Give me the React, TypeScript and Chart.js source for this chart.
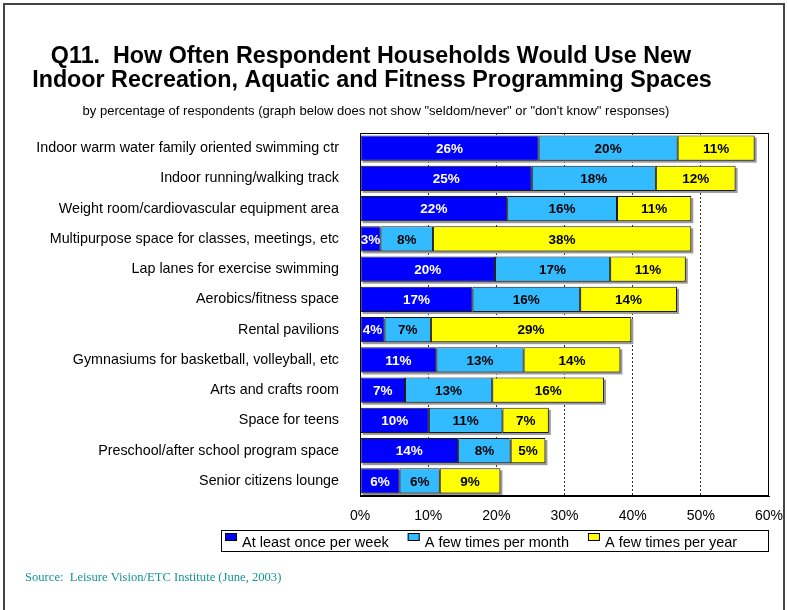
import React, { useEffect, useRef } from "react";
import { Chart, registerables } from "chart.js";

Chart.register(...registerables);

const categories = [
  "Indoor warm water family oriented swimming ctr",
  "Indoor running/walking track",
  "Weight room/cardiovascular equipment area",
  "Multipurpose space for classes, meetings, etc",
  "Lap lanes for exercise swimming",
  "Aerobics/fitness space",
  "Rental pavilions",
  "Gymnasiums for basketball, volleyball, etc",
  "Arts and crafts room",
  "Space for teens",
  "Preschool/after school program space",
  "Senior citizens lounge",
];

const weekly = [26.2, 25.2, 21.6, 3.0, 19.8, 16.5, 3.6, 11.2, 6.6, 10.1, 14.4, 5.8];
const monthly = [20.4, 18.2, 16.1, 7.7, 16.9, 15.8, 6.8, 12.8, 12.8, 10.8, 7.7, 5.9];
const yearly = [11.3, 11.7, 10.9, 37.9, 11.1, 14.2, 29.4, 14.2, 16.4, 6.8, 5.1, 8.9];

const seriesNames = ["At least once per week", "A few times per month", "A few times per year"];
const seriesColors = ["#0000FF", "#33BBFF", "#FFFF00"];
const valueLabelColors = ["#FFFFFF", "#000000", "#000000"];

const xMin = 0;
const xMax = 60;
const xStep = 10;

const titleLines = [
  "Q11.  How Often Respondent Households Would Use New",
  "Indoor Recreation, Aquatic and Fitness Programming Spaces",
];
const subtitleText =
  'by percentage of respondents (graph below does not show "seldom/never" or "don\'t know" responses)';
const sourceText = "Source:  Leisure Vision/ETC Institute (June, 2003)";

const SANS = "'Liberation Sans', Arial, Helvetica, sans-serif";
const SERIF = "'Liberation Serif', 'Times New Roman', serif";

export default function App() {
  const ref = useRef<HTMLCanvasElement | null>(null);

  useEffect(() => {
    const canvas = ref.current;
    if (!canvas) return;

    const decor = {
      id: "decor",
      beforeDraw(chart: any) {
        const ctx = chart.ctx;
        ctx.save();
        ctx.fillStyle = "#FFFFFF";
        ctx.fillRect(0, 0, chart.width, chart.height);
        ctx.restore();
      },
      beforeDatasetsDraw(chart: any) {
        // bar shadows
        const ctx = chart.ctx;
        const n = chart.data.datasets.length;
        const first = chart.getDatasetMeta(0);
        const last = chart.getDatasetMeta(n - 1);
        ctx.save();
        ctx.fillStyle = "#9a9a9a";
        last.data.forEach((el: any, i: number) => {
          const p = el.getProps(["x", "y", "height"], true);
          const b = first.data[i].getProps(["base"], true);
          const top = p.y - p.height / 2;
          ctx.fillRect(b.base + 2, top + 2, p.x - b.base, p.height);
        });
        ctx.restore();
      },
      afterDatasetsDraw(chart: any) {
        const ctx = chart.ctx;
        const area = chart.chartArea;
        // plot frame
        ctx.save();
        ctx.strokeStyle = "#000";
        ctx.lineWidth = 1;
        ctx.strokeRect(
          Math.round(area.left) + 0.5,
          Math.round(area.top) + 0.5,
          Math.round(area.right - area.left) - 1,
          Math.round(area.bottom - area.top) - 1
        );
        // value labels
        ctx.font = `bold 13.5px ${SANS}`;
        ctx.textAlign = "center";
        ctx.textBaseline = "middle";
        chart.data.datasets.forEach((ds: any, d: number) => {
          const meta = chart.getDatasetMeta(d);
          meta.data.forEach((el: any, i: number) => {
            const p = el.getProps(["x", "y", "base"], true);
            ctx.fillStyle = valueLabelColors[d];
            ctx.fillText(Math.round(ds.data[i]) + "%", (p.x + p.base) / 2, p.y + 1);
          });
        });
        ctx.restore();
      },
      afterDraw(chart: any) {
        const ctx = chart.ctx;
        ctx.save();
        // titles
        ctx.fillStyle = "#000";
        ctx.textAlign = "center";
        ctx.textBaseline = "alphabetic";
        ctx.font = `bold 23.3px ${SANS}`;
        ctx.fillText(titleLines[0], 371, 63);
        ctx.fillText(titleLines[1], 372, 87);
        ctx.font = `13px ${SANS}`;
        ctx.textBaseline = "middle";
        ctx.fillText(subtitleText, 376, 111);

        // legend
        const lx0 = 221, lx1 = 769, ly0 = 530, ly1 = 551;
        ctx.strokeStyle = "#000";
        ctx.lineWidth = 1;
        ctx.strokeRect(lx0 + 0.5, ly0 + 0.5, lx1 - lx0 - 1, ly1 - ly0);
        ctx.font = `14.5px ${SANS}`;
        ctx.textAlign = "left";
        ctx.textBaseline = "alphabetic";
        let x = 225;
        chart.data.datasets.forEach((ds: any) => {
          ctx.fillStyle = ds.backgroundColor;
          ctx.fillRect(x, 533, 12, 8);
          ctx.strokeStyle = "#000";
          ctx.strokeRect(x + 0.5, 533.5, 11, 7);
          ctx.fillStyle = "#000";
          ctx.fillText(ds.label, x + 17, 547);
          x = x + 17 + ctx.measureText(ds.label).width + 19;
        });

        // source
        ctx.font = `12.6px ${SERIF}`;
        ctx.fillStyle = "#139494";
        ctx.textBaseline = "middle";
        ctx.fillText(sourceText, 25, 578);

        // outer frame
        ctx.strokeStyle = "#444";
        ctx.lineWidth = 2;
        ctx.strokeRect(4, 4, 780, 700);
        ctx.restore();
      },
    };

    const chart = new Chart(canvas, {
      type: "bar",
      data: {
        labels: categories,
        datasets: [weekly, monthly, yearly].map((vals, d) => ({
          label: seriesNames[d],
          data: vals,
          backgroundColor: seriesColors[d],
          borderColor: "#1a1a1a",
          borderWidth: 1,
          borderSkipped: false,
          categoryPercentage: 0.83,
          barPercentage: 1,
        })),
      },
      options: {
        indexAxis: "y",
        responsive: false,
        maintainAspectRatio: false,
        animation: false,
        layout: { padding: { left: 10, right: 19, top: 133, bottom: 84 } },
        plugins: {
          legend: { display: false },
          title: { display: false },
          tooltip: { enabled: false },
        },
        scales: {
          x: {
            stacked: true,
            min: xMin,
            max: xMax,
            ticks: {
              stepSize: xStep,
              callback: (v: any) => v + "%",
              color: "#000",
              font: { family: SANS, size: 14 },
              padding: 12,
              maxRotation: 0,
            },
            grid: {
              drawTicks: false,
              lineWidth: 1,
              color: (c: any) =>
                c.tick && c.tick.value > xMin && c.tick.value < xMax ? "#333" : "rgba(0,0,0,0)",
            },
            border: { display: true, color: "#000", dash: [2, 2] },
            afterFit: (s: any) => {
              s.height = 30;
              s.paddingLeft = 0;
              s.paddingRight = 0;
            },
          },
          y: {
            stacked: true,
            ticks: {
              color: "#000",
              font: { family: SANS, size: 14.3 },
              padding: 21,
              autoSkip: false,
            },
            grid: { display: false, drawTicks: false },
            border: { display: true, color: "#000" },
            afterFit: (s: any) => {
              s.width = 350;
              s.paddingTop = 0;
              s.paddingBottom = 0;
            },
          },
        },
      },
      plugins: [decor],
    } as any);

    return () => chart.destroy();
  }, []);

  return (
    <div style={{ position: "fixed", left: 0, top: 0, width: 788, height: 610, background: "#fff" }}>
      <canvas ref={ref} width={788} height={610} style={{ display: "block", width: 788, height: 610 }} />
    </div>
  );
}
